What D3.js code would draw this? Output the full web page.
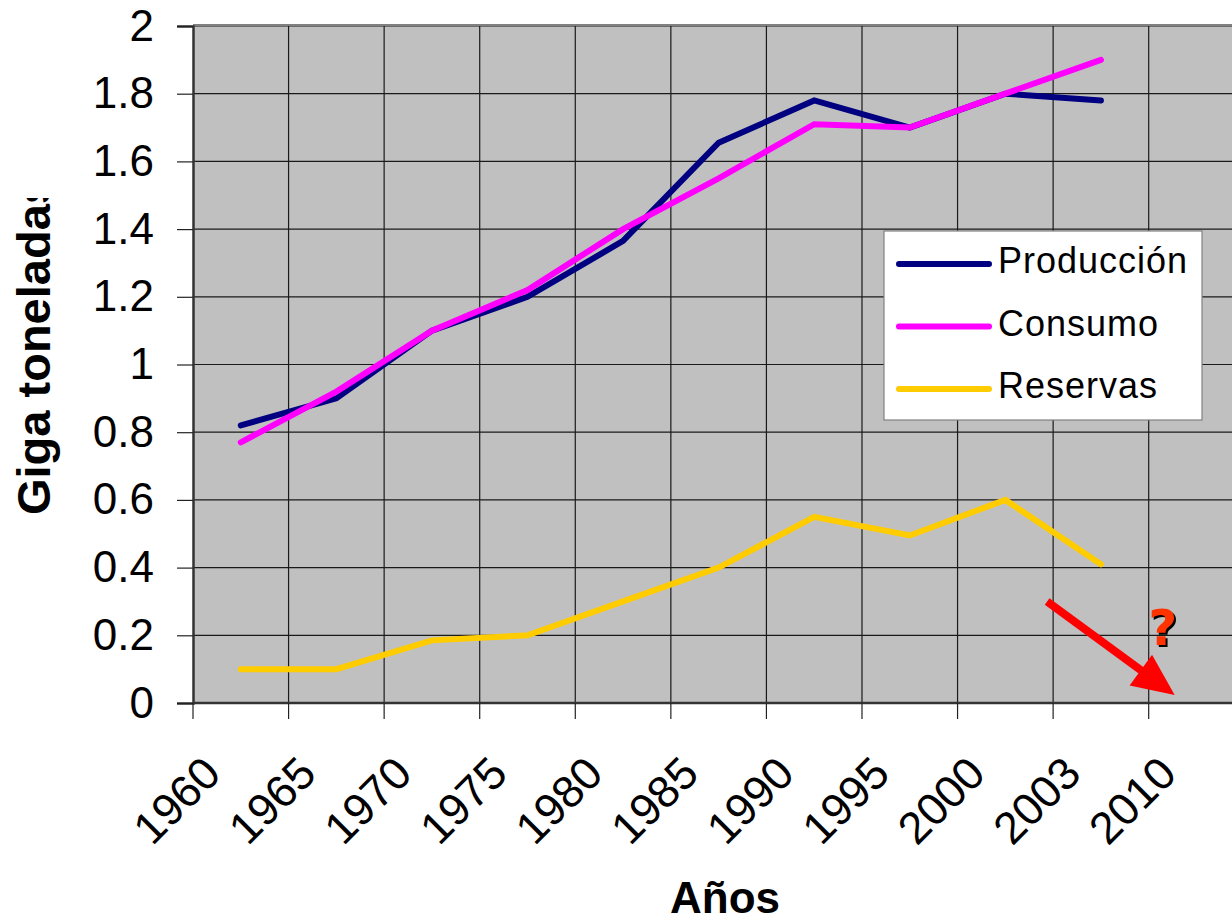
<!DOCTYPE html>
<html lang="es">
<head>
<meta charset="UTF-8">
<title>Producción, consumo y reservas</title>
<script src="https://d3js.org/d3.v7.min.js"></script>
<style>
    body { margin: 0; background: #fff; }
    svg { display: block; font-family: "Liberation Sans", Arial, sans-serif; }
</style>
</head>
<body>
<script>
    // Data
    const years = ["1960", "1965", "1970", "1975", "1980", "1985", "1990", "1995", "2000", "2003", "2010"];
    const produccion = [0.82, 0.90, 1.10, 1.20, 1.365, 1.655, 1.78, 1.70, 1.80, 1.78];
    const consumo = [0.77, 0.92, 1.10, 1.22, 1.40, 1.55, 1.71, 1.70, 1.80, 1.90];
    const reservas = [0.10, 0.10, 0.185, 0.20, 0.30, 0.40, 0.55, 0.495, 0.60, 0.41];
    const yTicks = [0, 0.2, 0.4, 0.6, 0.8, 1, 1.2, 1.4, 1.6, 1.8, 2];

    const series = [
        { name: "Producción", values: produccion, color: "#000080" },
        { name: "Consumo", values: consumo, color: "#ff00ff" },
        { name: "Reservas", values: reservas, color: "#ffcc00" }
    ];

    const width = 1232, height = 923;
    const plotLeft = 193, plotTop = 26, plotBottom = 703;
    const band = 95.57;

    const svg = d3.select("body").append("svg")
        .attr("width", width)
        .attr("height", height);

    const x = d3.scaleBand().domain(years).range([plotLeft, plotLeft + band * years.length]).padding(0);
    const y = d3.scaleLinear().domain([0, 2]).range([plotBottom, plotTop]);

    // plot area
    svg.append("rect")
        .attr("x", plotLeft).attr("y", plotTop)
        .attr("width", band * years.length).attr("height", plotBottom - plotTop)
        .attr("fill", "#c0c0c0");

    // horizontal grid
    svg.append("g").selectAll("line")
        .data(yTicks.slice(1))
        .join("line")
        .attr("x1", plotLeft).attr("x2", plotLeft + band * years.length)
        .attr("y1", d => y(d)).attr("y2", d => y(d))
        .attr("stroke", "#1a1a1a").attr("stroke-width", 1.2);

    // vertical grid
    svg.append("g").selectAll("line")
        .data(years.slice(1))
        .join("line")
        .attr("x1", d => x(d)).attr("x2", d => x(d))
        .attr("y1", plotTop).attr("y2", plotBottom)
        .attr("stroke", "#1a1a1a").attr("stroke-width", 1.2);

    // top border
    svg.append("line")
        .attr("x1", plotLeft).attr("x2", width)
        .attr("y1", plotTop - 1).attr("y2", plotTop - 1)
        .attr("stroke", "#808080").attr("stroke-width", 2);

    // y axis
    const yAxis = svg.append("g")
        .attr("transform", `translate(${plotLeft},0)`)
        .call(d3.axisLeft(y).tickValues(yTicks).tickSize(16).tickPadding(23)
            .tickFormat(d => String(+d.toFixed(1))));
    yAxis.select(".domain").attr("stroke", "#333").attr("stroke-width", 2.5);
    yAxis.selectAll(".tick line").attr("stroke", "#222").attr("stroke-width", 1.2);
    yAxis.selectAll(".tick text")
        .attr("font-size", 44)
        .attr("font-family", "'Liberation Sans', Arial, sans-serif")
        .attr("fill", "#000");

    // x axis
    svg.append("line")
        .attr("x1", plotLeft).attr("x2", width)
        .attr("y1", plotBottom).attr("y2", plotBottom)
        .attr("stroke", "#333").attr("stroke-width", 2.5);

    svg.append("g").selectAll("line")
        .data(years)
        .join("line")
        .attr("x1", d => x(d)).attr("x2", d => x(d))
        .attr("y1", plotBottom).attr("y2", plotBottom + 16)
        .attr("stroke", "#222").attr("stroke-width", 1.2);

    svg.append("g").selectAll("text")
        .data(years)
        .join("text")
        .attr("transform", d => `translate(${x(d) + 30},776) rotate(-45)`)
        .attr("text-anchor", "end")
        .attr("font-size", 45)
        .text(d => d);

    // lines
    const line = d3.line()
        .x((d, i) => x(years[i]) + x.bandwidth() / 2)
        .y(d => y(d));

    svg.append("g").selectAll("path")
        .data(series)
        .join("path")
        .attr("d", d => line(d.values))
        .attr("fill", "none")
        .attr("stroke", d => d.color)
        .attr("stroke-width", 6)
        .attr("stroke-linecap", "round")
        .attr("stroke-linejoin", "miter");

    // arrow and question mark
    const ax1 = x("2003") - 6, ay1 = y(0.3);
    const ax2 = x("2010") + 26, ay2 = y(0.024);
    const ang = Math.atan2(ay2 - ay1, ax2 - ax1);
    const headLen = 42, headW = 19;
    const bx = ax2 - headLen * Math.cos(ang), by = ay2 - headLen * Math.sin(ang);
    svg.append("line")
        .attr("x1", ax1).attr("y1", ay1)
        .attr("x2", bx + 4 * Math.cos(ang)).attr("y2", by + 4 * Math.sin(ang))
        .attr("stroke", "#ff0000").attr("stroke-width", 8);
    svg.append("path")
        .attr("d", `M${ax2},${ay2}L${bx - headW * Math.sin(ang)},${by + headW * Math.cos(ang)}L${bx + headW * Math.sin(ang)},${by - headW * Math.cos(ang)}Z`)
        .attr("fill", "#ff0000");

    const qx = x("2010") + 14, qy = y(0.17);
    svg.append("text")
        .attr("x", qx + 2).attr("y", qy + 2)
        .attr("text-anchor", "middle")
        .attr("font-family", "'DejaVu Sans', sans-serif")
        .attr("font-weight", "bold").attr("font-size", 50)
        .attr("fill", "#000")
        .text("?");
    svg.append("text")
        .attr("x", qx).attr("y", qy)
        .attr("text-anchor", "middle")
        .attr("font-family", "'DejaVu Sans', sans-serif")
        .attr("font-weight", "bold").attr("font-size", 50)
        .attr("fill", "#ff3300")
        .text("?");

    // legend
    const legend = svg.append("g").attr("transform", "translate(884,231)");
    legend.append("rect")
        .attr("width", 318).attr("height", 189)
        .attr("fill", "#fff")
        .attr("stroke", "#808080").attr("stroke-width", 1.2);
    const item = legend.selectAll("g")
        .data(series)
        .join("g")
        .attr("transform", (d, i) => `translate(0,${33 + i * 62.5})`);
    item.append("line")
        .attr("x1", 15).attr("x2", 105)
        .attr("stroke", d => d.color)
        .attr("stroke-width", 6)
        .attr("stroke-linecap", "round");
    item.append("text")
        .attr("x", 114).attr("y", 9)
        .attr("font-size", 36)
        .attr("letter-spacing", 1)
        .text(d => d.name);

    // axis titles
    svg.append("clipPath").attr("id", "ylabClip")
        .append("rect").attr("x", 0).attr("y", 198).attr("width", 120).attr("height", 400);
    svg.append("g")
        .attr("clip-path", "url(#ylabClip)")
        .append("text")
        .attr("transform", "translate(50,515) rotate(-90)")
        .attr("font-size", 47)
        .attr("font-weight", "bold")
        .text("Giga toneladas");

    svg.append("text")
        .attr("x", 725).attr("y", 913)
        .attr("text-anchor", "middle")
        .attr("font-size", 44)
        .attr("font-weight", "bold")
        .text("Años");
</script>
</body>
</html>
